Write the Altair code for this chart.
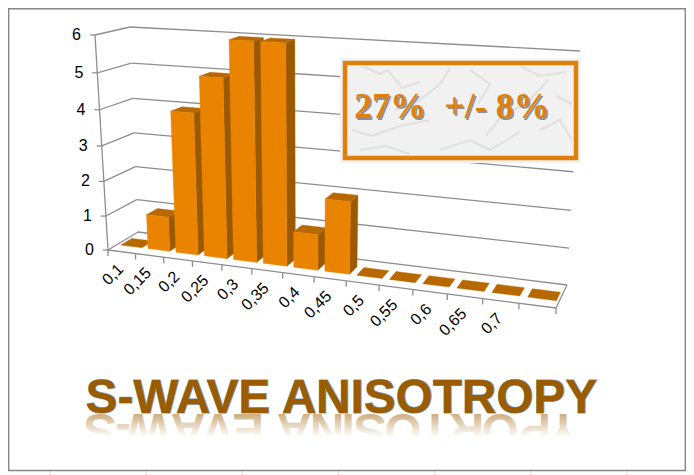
import altair as alt
import pandas as pd

# ---- chart values ----
categories = ["0,1", "0,15", "0,2", "0,25", "0,3", "0,35", "0,4", "0,45", "0,5", "0,55", "0,6", "0,65", "0,7", ""]
values = [0, 1, 4, 5, 6, 6, 1, 2, 0, 0, 0, 0, 0, 0]
y_ticks = [0, 1, 2, 3, 4, 5, 6]
title_text = "S-WAVE ANISOTROPY"
box_text = "27%\u00a0\u00a0+/- 8%"
letters = list("S-WAVE") + list("ANISOTROPY")
letter_x = [100, 123, 148, 188, 218, 248, 294, 327, 348, 370, 403, 435, 467, 500, 535, 563]
sheet_cols = [50 + 96.17 * i for i in range(7)]
veins = [
    [(362, 66), (380, 74), (388, 70), (402, 88), (420, 82)],
    [(450, 68), (440, 84), (420, 100), (395, 110)],
    [(520, 66), (540, 76), (566, 72)],
    [(548, 80), (530, 100), (500, 118), (486, 136)],
    [(352, 130), (372, 136), (400, 126), (430, 120)],
    [(440, 150), (470, 140), (490, 150), (520, 132)],
    [(540, 130), (560, 120), (572, 140)],
    [(360, 150), (386, 146), (410, 154)],
    [(470, 70), (490, 84), (478, 104)],
    [(556, 96), (572, 104)],
]

# the page keeps 8 px round the chart: the domains below are page pixels
L, T, R, B = 8, 8, 686, 475
W, H = R - L, B - T
FRONT, SIDE, TOP = "#ea8300", "#9b5a00", "#b86800"
GRID = "#8e8e8e"

# ---- 3-D view of the value space ----
C = {"fl0": (108, 250), "bl0": (138, 232), "fr0": (556, 308), "br0": (567, 285),
     "fl6": (95, 35), "bl6": (130, 27), "fr6": (572, 63), "br6": (580, 51)}


def lerp(a, b, t):
    return (a[0] + (b[0] - a[0]) * t, a[1] + (b[1] - a[1]) * t)


def proj(u, v, h):
    uu = u / (1 + 0.174 * (1 - u))
    t0 = h / 6
    t = t0 / (1 + 0.066 * (1 - t0))
    lo = lerp(lerp(C["fl0"], C["bl0"], v), lerp(C["fr0"], C["br0"], v), uu)
    hi = lerp(lerp(C["fl6"], C["bl6"], v), lerp(C["fr6"], C["br6"], v), uu)
    return lerp(lo, hi, t)


# ---- faces ----
n = len(categories)
V0, V1 = 0.30, 0.67
faces = []
fid = 0


def add_face(pts, col):
    global fid
    for s, p in enumerate(pts + pts[:1]):
        faces.append({"x": p[0], "y": p[1], "f": fid, "s": s, "c": col})
    fid += 1


for i, val in enumerate(values):
    u0, u1 = (i + 0.14) / n, (i + 0.92) / n
    if val > 0:
        add_face([proj(u1, V0, 0), proj(u1, V1, 0), proj(u1, V1, val), proj(u1, V0, val)], SIDE)
    add_face([proj(u0, V0, val), proj(u1, V0, val), proj(u1, V1, val), proj(u0, V1, val)], TOP)
    if val > 0:
        add_face([proj(u0, V0, 0), proj(u1, V0, 0), proj(u1, V0, val), proj(u0, V0, val)], FRONT)
faces = pd.DataFrame(faces)

# ---- grid lines and ticks ----
segs = []
for h in y_ticks:
    a, b, c = proj(0, 0, h), proj(0, 1, h), proj(1, 1, h)
    segs.append((a[0], a[1], b[0], b[1]))
    segs.append((b[0], b[1], c[0], c[1]))
    segs.append((a[0] - 5, a[1], a[0], a[1]))
a, b = proj(0, 0, 0), proj(0, 0, 6)
segs.append((a[0], a[1], b[0], b[1]))
a, b = proj(0, 0, 0), proj(1, 0, 0)
segs.append((a[0], a[1], b[0], b[1]))
a, b = proj(1, 0, 0), proj(1, 1, 0)
segs.append((a[0], a[1], b[0], b[1]))
for i in range(n + 1):
    a = proj(i / n, 0, 0)
    segs.append((a[0], a[1], a[0], a[1] + 6))
segs = pd.DataFrame(segs, columns=["x", "y", "x2", "y2"])

y_lab = pd.DataFrame([{"x": proj(0, 0, h)[0] - 14, "y": proj(0, 0, h)[1], "t": str(h)} for h in y_ticks])
x_lab = []
for i, cat in enumerate(categories):
    if cat:
        p = proj((i + 0.5) / n, 0, 0)
        x_lab.append({"x": p[0] - 1, "y": p[1] + 15, "t": cat})
x_lab = pd.DataFrame(x_lab)

xs = alt.Scale(domain=[L, R], range=[0, W], nice=False, zero=False)
ys = alt.Scale(domain=[T, B], range=[0, H], nice=False, zero=False)
X = alt.X("x:Q", scale=xs, axis=None)
Y = alt.Y("y:Q", scale=ys, axis=None)


def rect_df(x, x2, y, y2):
    return pd.DataFrame([{"x": x, "x2": x2, "y": y, "y2": y2}])


def rule_layer(df, color, width):
    return alt.Chart(df).mark_rule(color=color, strokeWidth=width).encode(X, Y, x2="x2:Q", y2="y2:Q")


def rect_layer(df, **kw):
    return alt.Chart(df).mark_rect(**kw).encode(X, Y, x2="x2:Q", y2="y2:Q")


sheet = pd.DataFrame([(c, 470, c, B) for c in sheet_cols], columns=["x", "y", "x2", "y2"])

vein_rows = []
for k, line in enumerate(veins):
    for s, (vx, vy) in enumerate(line):
        vein_rows.append({"x": vx, "y": vy, "k": k, "s": s})
vein_df = pd.DataFrame(vein_rows)

fade = alt.Gradient(
    gradient="linear", x1=0, y1=0, x2=0, y2=1,
    stops=[alt.GradientStop(color="rgba(255,255,255,0.5)", offset=0),
           alt.GradientStop(color="rgba(255,255,255,1)", offset=1)])

title_df = pd.DataFrame([{"x": 341.5, "y": 413, "t": title_text}])
refl_df = pd.DataFrame({"x": letter_x, "y": [414] * len(letters), "t": letters})
box_df = pd.DataFrame([{"x": 452, "y": 118, "t": box_text}])
box_shadow = pd.DataFrame([{"x": 453.5, "y": 119.5, "t": box_text}])

layers = [
    rule_layer(sheet, "#d9d9d9", 1),
    alt.Chart(rect_df(8.7, 685.3, 8.7, 470.5)).mark_rect(fill="white", stroke="#868686", strokeWidth=1.4).encode(
        X, Y, x2="x2:Q", y2="y2:Q"),
    rule_layer(segs, GRID, 1.3),
    alt.Chart(faces).mark_line(strokeWidth=0.4, interpolate="linear").encode(
        X, Y, detail="f:N", order="s:Q",
        fill=alt.Fill("c:N", scale=None), stroke=alt.Stroke("c:N", scale=None)),
    alt.Chart(y_lab).mark_text(align="right", baseline="middle", font="Liberation Sans", fontSize=16, color="black").encode(
        X, Y, text="t:N"),
    alt.Chart(x_lab).mark_text(align="right", baseline="middle", angle=315, font="Liberation Sans", fontSize=16,
                               color="black").encode(X, Y, text="t:N"),
    # marble box
    rect_layer(rect_df(340, 581, 58, 163), fill="#f1f1f1"),
    alt.Chart(vein_df).mark_line(color="#d8d8d8", strokeWidth=2, opacity=0.7).encode(
        X, Y, detail="k:N", order="s:Q"),
    rect_layer(rect_df(345, 576, 63, 158), filled=False, stroke="#e07f0a", strokeWidth=4.5),
    alt.Chart(box_shadow).mark_text(align="center", baseline="alphabetic", font="Liberation Serif", fontWeight="bold",
                                    fontSize=36, color="#8f8f8f").encode(X, Y, text="t:N"),
    alt.Chart(box_df).mark_text(align="center", baseline="alphabetic", font="Liberation Serif", fontWeight="bold",
                                fontSize=36, color="#e07f0a").encode(X, Y, text="t:N"),
    # big title with its reflection
    alt.Chart(refl_df).mark_text(align="center", baseline="alphabetic", angle=180, font="Liberation Sans",
                                 fontWeight="bold", fontSize=47.7, color="#9b5c00").encode(X, Y, text="t:N"),
    rect_layer(rect_df(80, 604, 414, 437), color=fade),
    rect_layer(rect_df(80, 604, 437, 452), fill="white"),
    alt.Chart(title_df).mark_text(align="center", baseline="alphabetic", font="Liberation Sans", fontWeight="bold",
                                  fontSize=47.7, fill="#9b5c00", stroke="#7da3b8", strokeWidth=1.2).encode(X, Y, text="t:N"),
    alt.Chart(title_df).mark_text(align="center", baseline="alphabetic", font="Liberation Sans", fontWeight="bold",
                                  fontSize=47.7, color="#9b5c00").encode(X, Y, text="t:N"),
]

chart = alt.layer(*layers).properties(
    width=W, height=H, padding=0, autosize="none",
).configure_view(stroke=None)

chart.save("out.html", embed_options={"renderer": "svg", "actions": False})
